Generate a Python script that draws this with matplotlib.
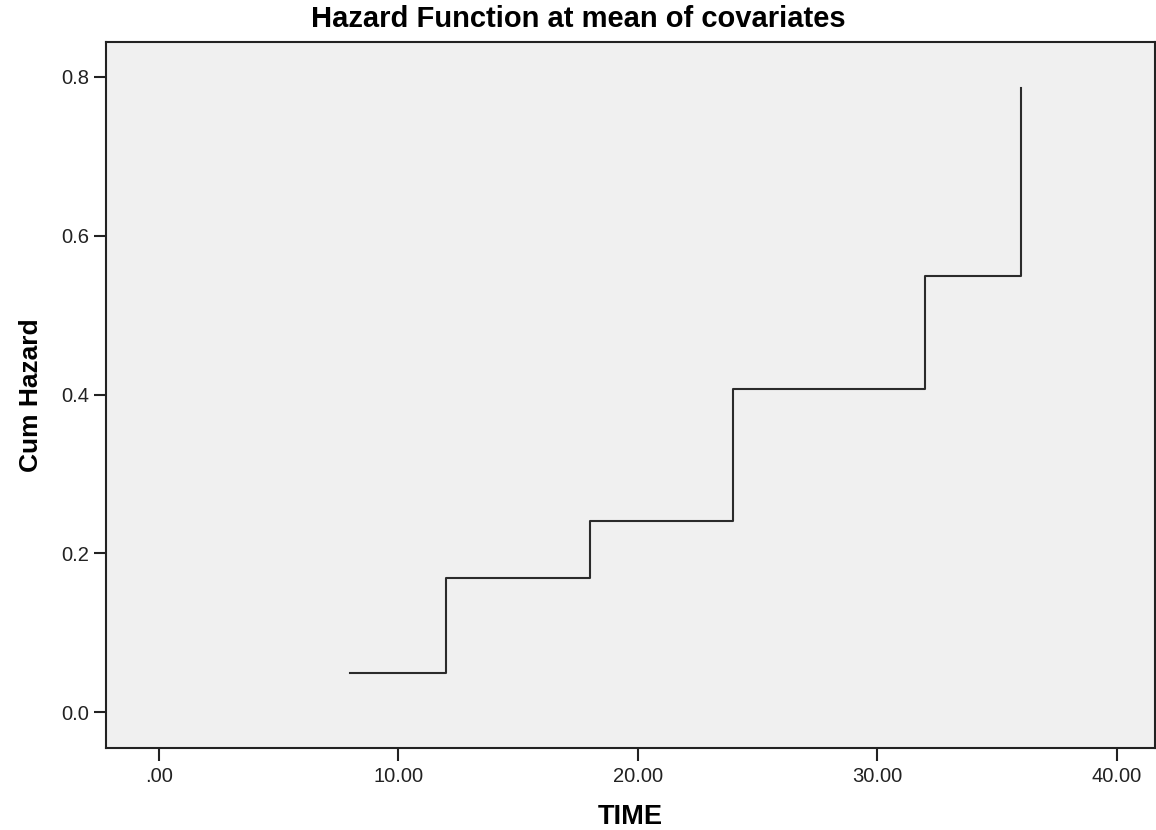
import matplotlib.pyplot as plt
from matplotlib.ticker import FuncFormatter

plt.rcParams['font.family'] = ['Liberation Sans', 'DejaVu Sans']

# cumulative hazard step function
time = [8, 12, 18, 24, 32, 36]
cum_hazard = [0.049, 0.169, 0.241, 0.407, 0.549, 0.786]

x_ticks = [0, 10, 20, 30, 40]
y_ticks = [0.0, 0.2, 0.4, 0.6, 0.8]

fig = plt.figure(figsize=(11.56, 8.30), dpi=100)
ax = fig.add_axes([106/1156, 1 - 748/830, 1049/1156, (748 - 42)/830])
ax.set_facecolor('#f0f0f0')

ax.plot(time, cum_hazard, drawstyle='steps-post', color='#2b2b2b', lw=1.5)

ax.set_xlim(-2.2, 41.6)
ax.set_ylim(-0.045, 0.844)
ax.set_xticks(x_ticks)
ax.set_yticks(y_ticks)
ax.xaxis.set_major_formatter(FuncFormatter(lambda v, p: ('%.2f' % v).lstrip('0') if v == 0 else '%.2f' % v))
ax.yaxis.set_major_formatter(FuncFormatter(lambda v, p: '%.1f' % v))

ax.tick_params(direction='out', length=9, width=1.5, color='#222222',
               labelsize=14.5, labelcolor='#222222')
ax.tick_params(axis='y', pad=3)
ax.tick_params(axis='x', pad=5)
for s in ax.spines.values():
    s.set_linewidth(1.5)
    s.set_color('#222222')

ax.set_xlabel('TIME', fontsize=19.5, fontweight='bold', labelpad=13)
ax.set_ylabel('Cum Hazard', fontsize=19, fontweight='bold', labelpad=13)
fig.text(0.5, 1 - 19/830, 'Hazard Function at mean of covariates',
         ha='center', va='center', fontsize=21, fontweight='bold')

fig.savefig('out.png', dpi=100)
